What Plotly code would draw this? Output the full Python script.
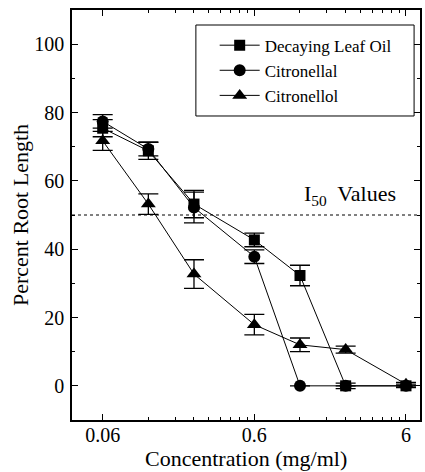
import plotly.graph_objects as go

# ---- data ----
concentration = [0.06, 0.12, 0.24, 0.6, 1.2, 2.4, 6]

leaf_oil = [75.4, 68.8, 53.2, 42.7, 32.3, 0, 0]
leaf_oil_err = [2.5, 2.5, 4.0, 2.0, 3.0, 0.8, 0.5]

citronellal = [77.4, 69.3, 52.2, 37.8, 0, 0, 0]
citronellal_err = [2.0, 2.0, 4.5, 2.0, 0, 0, 0]

citronellol = [71.7, 53.2, 32.7, 17.9, 12.0, 10.6, 0.5]
citronellol_err = [2.8, 3.0, 4.2, 3.0, 2.0, 1.0, 0.5]

series_names = ["Decaying Leaf Oil", "Citronellal", "Citronellol"]
series_symbols = ["square", "circle", "triangle-up"]
series_sizes = [11, 12, 13]

x_tick_vals = [0.06, 0.6, 6]
x_tick_labels = ["0.06", "0.6", "6"]
x_minor_vals = [0.06 * d * k for d in (1, 10) for k in range(2, 10)]
y_tick_vals = [0, 20, 40, 60, 80, 100]

i50_level = 50

FONT = "Times New Roman"

fig = go.Figure()

for name, ys, errs, sym, sz in zip(
    series_names,
    [leaf_oil, citronellal, citronellol],
    [leaf_oil_err, citronellal_err, citronellol_err],
    series_symbols,
    series_sizes,
):
    fig.add_trace(
        go.Scatter(
            x=concentration,
            y=ys,
            name=name,
            legendgroup=name,
            mode="lines+markers",
            line=dict(color="black", width=1),
            marker=dict(symbol=sym, size=sz, color="black"),
            error_y=dict(type="data", array=errs, visible=True,
                         color="black", thickness=1.3, width=10),
        )
    )

# I50 reference line
fig.add_shape(type="line", xref="paper", x0=0, x1=1, yref="y",
              y0=i50_level, y1=i50_level,
              line=dict(color="black", width=1, dash="dot"), layer="below")

# legend frame
fig.add_shape(type="rect", xref="paper", yref="paper",
              x0=0.356, x1=0.983, y0=0.7415, y1=0.9634,
              line=dict(color="black", width=1), fillcolor="white", layer="below")

fig.add_annotation(text="I<sub>50</sub>  Values", xref="paper", yref="y",
                   x=0.937, y=56, xanchor="right", yanchor="middle",
                   showarrow=False, font=dict(family=FONT, size=22, color="black"))

# x-axis title
fig.add_annotation(text="Concentration (mg/ml)", xref="paper", yref="paper",
                   x=0.5, y=-0.0927, xanchor="center", yanchor="middle",
                   showarrow=False, font=dict(family=FONT, size=22, color="black"))

fig.update_layout(
    width=425, height=472,
    margin=dict(l=72, r=5, t=10, b=52),
    paper_bgcolor="white", plot_bgcolor="white",
    font=dict(family=FONT, color="black"),
    showlegend=True,
    legend=dict(
        x=0.41, y=0.957, xanchor="left", yanchor="top",
        borderwidth=0, bgcolor="rgba(0,0,0,0)",
        font=dict(family=FONT, size=17, color="black"),
        tracegroupgap=0, itemwidth=40,
    ),
    xaxis=dict(
        type="log",
        range=[-1.4242, 0.8705],
        tickmode="array", tickvals=x_tick_vals, ticktext=x_tick_labels,
        ticks="inside", ticklen=6, tickwidth=1.3, tickcolor="black",
        minor=dict(tickmode="array", tickvals=x_minor_vals, ticks="inside",
                   ticklen=3, tickwidth=1, tickcolor="black"),
        showline=True, linecolor="black", linewidth=1.5, mirror="allticks",
        showgrid=False, zeroline=False,
        tickfont=dict(family=FONT, size=20, color="black"),
        ticklabelstandoff=-4,
        automargin=False,
    ),
    yaxis=dict(
        range=[-10, 110],
        tickmode="array", tickvals=y_tick_vals,
        ticks="inside", ticklen=6, tickwidth=1.3, tickcolor="black",
        minor=dict(dtick=10, ticks="inside", ticklen=3, tickwidth=1,
                   tickcolor="black"),
        showline=True, linecolor="black", linewidth=1.5, mirror="allticks",
        showgrid=False, zeroline=False,
        tickfont=dict(family=FONT, size=20, color="black"),
        ticklabelstandoff=2,
        title=dict(text="Percent Root Length", standoff=0,
                   font=dict(family=FONT, size=22, color="black")),
        automargin=False,
    ),
)

fig.write_html(
    "out.html",
    config={"displayModeBar": False},
    post_script="document.body.style.margin='0';document.body.style.overflow='hidden';",
)
